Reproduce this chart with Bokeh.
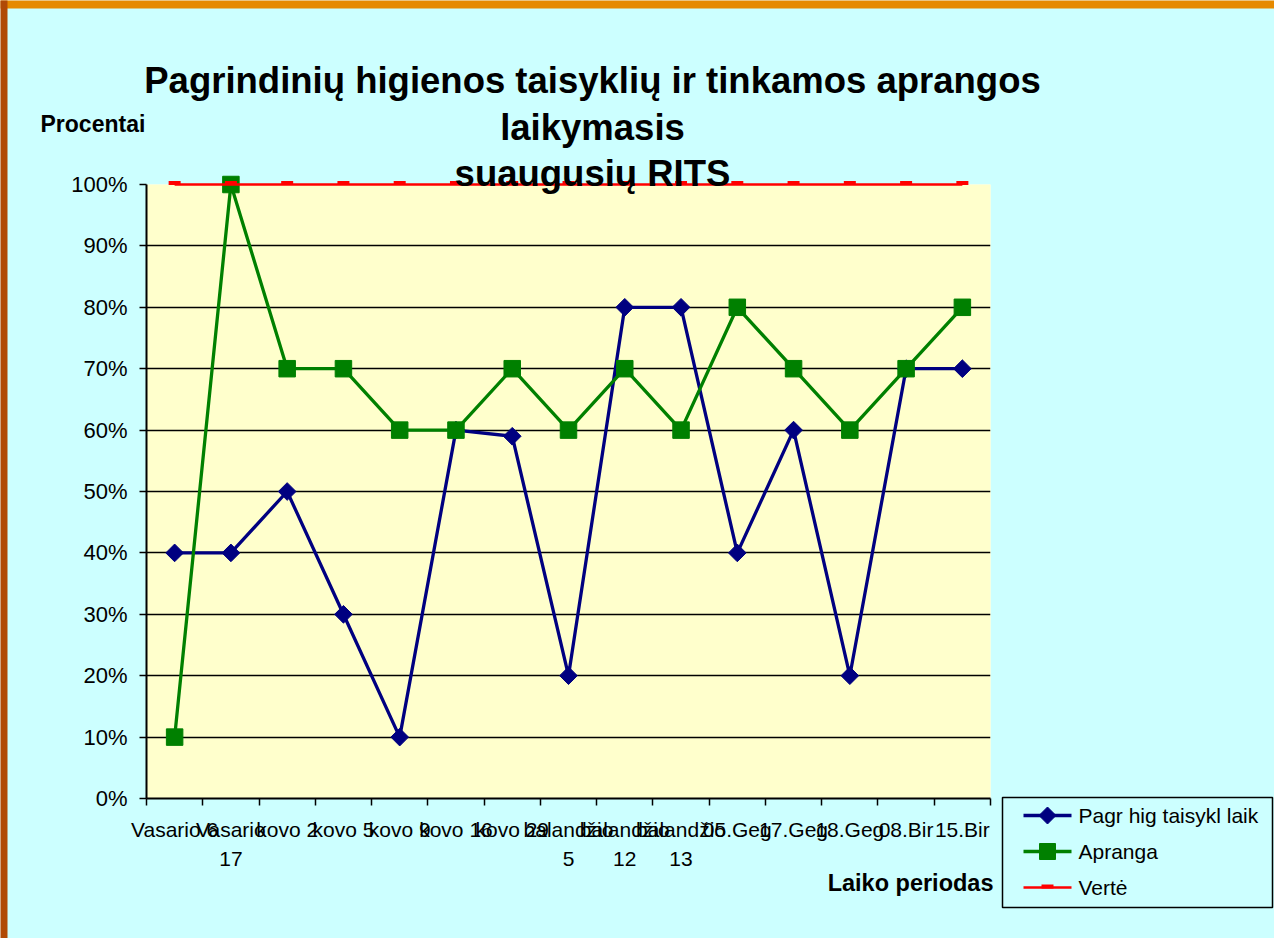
import numpy as np
from bokeh.plotting import figure
from bokeh.models import Range1d, FixedTicker, PrintfTickFormatter
from bokeh.core.properties import value
from bokeh.embed import file_html
from bokeh.resources import INLINE

# ---------------- data ----------------
categories = ["Vasario 6", "Vasario\n17", "kovo 2", "kovo 5", "kovo 9",
              "kovo 16", "kovo 29", "balandžio\n5", "balandžio\n12",
              "balandžio\n13", "05.Geg", "17.Geg", "18.Geg", "08.Bir", "15.Bir"]
pagr_hig = [40, 40, 50, 30, 10, 60, 59, 20, 80, 80, 40, 60, 20, 70, 70]
apranga = [10, 100, 70, 70, 60, 60, 70, 60, 70, 60, 80, 70, 60, 70, 80]
verte = [100, 100, 100, 100, 100, 100, 100, 100, 100, 100, 100, 100, 100, 100, 100]
y_ticks = [0, 10, 20, 30, 40, 50, 60, 70, 80, 90, 100]
series_names = ["Pagr hig taisykl laik", "Apranga", "Vertė"]
title_lines = ["Pagrindinių higienos taisyklių ir tinkamos aprangos",
               "laikymasis", "suaugusių RITS"]
y_title = "Procentai"
x_title = "Laiko periodas"

# ---------------- style ----------------
CYAN = "#CCFFFF"
YELLOW = "#FFFFCC"
BLUE = "#000080"
GREEN = "#008000"
RED = "#FF0000"
FONT = "Liberation Sans"
colors = [BLUE, GREEN, RED]

line_styles = [dict(line_color=BLUE, line_width=3.3),
               dict(line_color=GREEN, line_width=3.3),
               dict(line_color=RED, line_width=2.5)]
legend_shapes = ["diamond", "square", "dash"]

W, H = 1274, 938
FL, FR, FT, FB = 146, 990, 184, 798   # frame edges in page pixels
n = len(categories)
xs = [i + 0.5 for i in range(n)]
Y_MAX = 100

p = figure(width=W, height=H, x_range=Range1d(0, n), y_range=Range1d(0, Y_MAX),
           output_backend="svg", toolbar_location=None,
           min_border_left=FL, min_border_right=W - FR,
           min_border_top=FT, min_border_bottom=H - FB,
           background_fill_color=YELLOW, border_fill_color=CYAN,
           outline_line_color=None)

# page-pixel -> data helpers for free text / legend / decoration placement
UX = n / (FR - FL)        # data units per pixel (x)
UY = Y_MAX / (FB - FT)    # data units per pixel (y)
def px2x(px):
    return (px - FL) * UX
def py2y(py):
    return (FB - py) * UY

# slide decoration (orange frame at top / left)
p.quad(left=[px2x(0)], right=[px2x(W)], bottom=[py2y(8)], top=[py2y(0)],
       fill_color="#E68A00", line_color=None, level="overlay")
p.quad(left=[px2x(0)], right=[px2x(7)], bottom=[py2y(H)], top=[py2y(0)],
       fill_color="#B04A06", line_color=None, level="overlay")

# grid
p.xgrid.visible = False
p.ygrid.ticker = FixedTicker(ticks=y_ticks)
p.ygrid.grid_line_color = "black"
p.ygrid.grid_line_width = 1.5

# y axis
ya = p.yaxis[0]
ya.ticker = FixedTicker(ticks=y_ticks)
ya.formatter = PrintfTickFormatter(format="%d%%")
ya.axis_line_color = "black"
ya.axis_line_width = 2
ya.major_tick_line_color = "black"
ya.major_tick_line_width = 1.5
ya.major_tick_out = 7
ya.major_tick_in = 0
ya.minor_tick_line_color = None
ya.major_label_standoff = 12
ya.major_label_text_font = FONT
ya.major_label_text_font_size = "22px"
ya.major_label_text_color = "black"

# x axis
xa = p.xaxis[0]
xa.ticker = FixedTicker(ticks=xs, minor_ticks=list(range(n + 1)))
xa.major_label_overrides = {x: c for x, c in zip(xs, categories)}
xa.axis_line_color = "black"
xa.axis_line_width = 2
xa.major_tick_line_color = None
xa.major_tick_out = 0
xa.major_tick_in = 0
xa.minor_tick_line_color = "black"
xa.minor_tick_line_width = 1.5
xa.minor_tick_out = 7
xa.minor_tick_in = 0
xa.major_label_standoff = 12
xa.major_label_text_font = FONT
xa.major_label_text_font_size = "21px"
xa.major_label_text_color = "black"
xa.major_label_text_line_height = 1.3

# series (overlay level so markers at 100% are not clipped)
p.line(xs, pagr_hig, level="overlay", **line_styles[0])
p.scatter(xs, pagr_hig, marker="square", angle=np.pi / 4, size=12.5,
          fill_color=BLUE, line_color=BLUE, level="overlay")
p.line(xs, apranga, level="overlay", **line_styles[1])
p.scatter(xs, apranga, marker="square", size=16.5,
          fill_color=GREEN, line_color=GREEN, level="overlay")
p.line(xs, verte, level="overlay", **line_styles[2])
# short red dash markers sitting on top of the line (12 x 4 px)
p.quad(left=[x - 6 * UX for x in xs], right=[x + 6 * UX for x in xs],
       bottom=[v - 0.5 * UY for v in verte], top=[v + 3.5 * UY for v in verte],
       fill_color=RED, line_color=None, level="overlay")

# legend box drawn with glyphs (outside the frame)
LX0, LX1, LY0, LY1 = 1002, 1272, 797, 907
p.quad(left=[px2x(LX0)], right=[px2x(LX1)], bottom=[py2y(LY1)], top=[py2y(LY0)],
       fill_color=CYAN, line_color="black", line_width=1.5, level="overlay")
item_y = [815, 851, 887]
MX = 1047
for name, iy, ls, shape, col in zip(series_names, item_y, line_styles,
                                    legend_shapes, colors):
    p.line([px2x(1023), px2x(1071)], [py2y(iy), py2y(iy)], level="overlay", **ls)
    if shape == "diamond":
        r = 8.5
        p.patch([px2x(MX), px2x(MX + r), px2x(MX), px2x(MX - r)],
                [py2y(iy - r), py2y(iy), py2y(iy + r), py2y(iy)],
                fill_color=col, line_color=col, level="overlay")
    elif shape == "square":
        r = 8
        p.quad(left=[px2x(MX - r)], right=[px2x(MX + r)],
               bottom=[py2y(iy + r)], top=[py2y(iy - r)],
               fill_color=col, line_color=col, level="overlay")
    else:
        p.quad(left=[px2x(MX - 6)], right=[px2x(MX + 6)],
               bottom=[py2y(iy + 1)], top=[py2y(iy - 3)],
               fill_color=col, line_color=None, level="overlay")
    p.text(x=[px2x(1078)], y=[py2y(iy)], text=[name], text_align="left",
           text_baseline="middle", text_font=value(FONT),
           text_font_size="21px", text_color="black", level="overlay")

# title lines and axis titles as overlay text glyphs
p.text(x=[px2x(592)] * 3, y=[py2y(80), py2y(126.5), py2y(173)], text=title_lines,
       text_align="center", text_baseline="alphabetic",
       text_font=value(FONT), text_font_size="36.5px", text_font_style="bold",
       text_color="black", level="overlay")
p.text(x=[px2x(40)], y=[py2y(123)], text=[y_title], text_align="left",
       text_baseline="alphabetic", text_font=value(FONT),
       text_font_size="23px", text_font_style="bold", text_color="black",
       level="overlay")
p.text(x=[px2x(993)], y=[py2y(882)], text=[x_title], text_align="right",
       text_baseline="alphabetic", text_font=value(FONT),
       text_font_size="23.5px", text_font_style="bold", text_color="black",
       level="overlay")

open("out.html", "w").write(file_html(p, INLINE))
